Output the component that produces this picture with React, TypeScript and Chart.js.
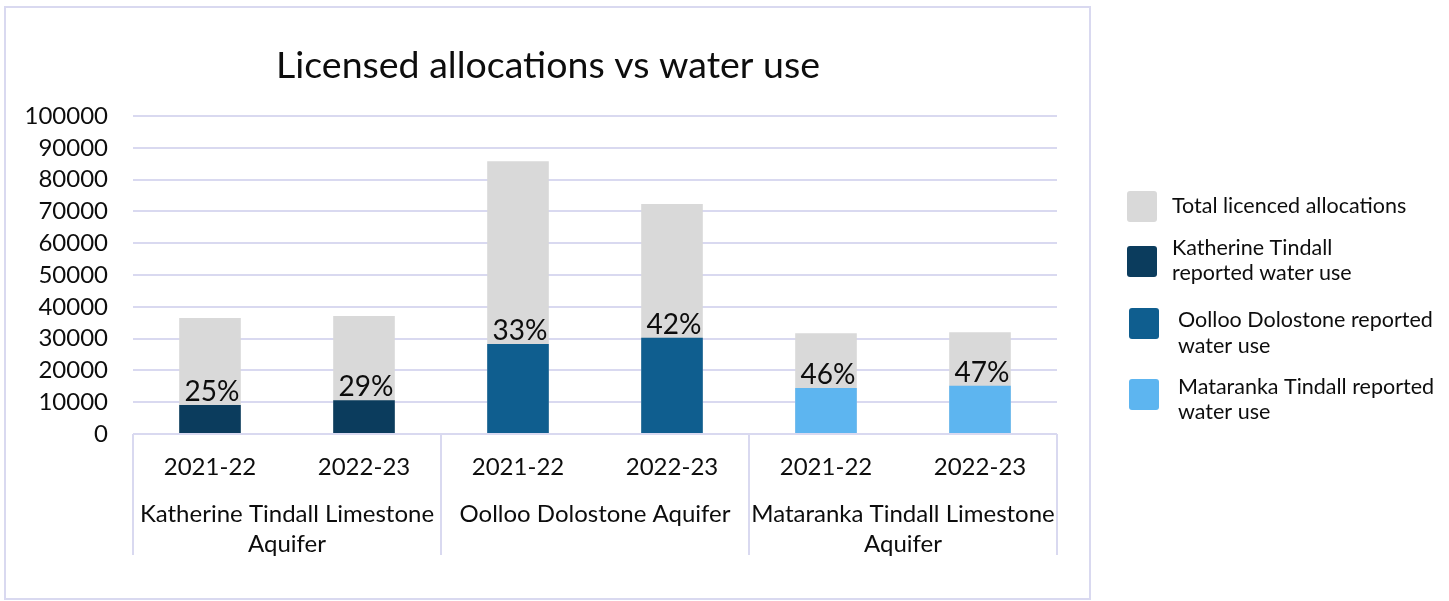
import React, { useEffect, useRef } from "react";
import { Chart, registerables } from "chart.js";

Chart.register(...registerables);

const categories = ["2021-22", "2022-23", "2021-22", "2022-23", "2021-22", "2022-23"];
const groupLabels = [
  ["Katherine Tindall Limestone", "Aquifer"],
  ["Oolloo Dolostone Aquifer"],
  ["Mataranka Tindall Limestone", "Aquifer"],
];
const totalAllocations = [36500, 37100, 85800, 72300, 31700, 32000];
const katherineUse = [9100, 10600, null, null, null, null];
const oollooUse = [null, null, 28300, 30300, null, null];
const matarankaUse = [null, null, null, null, 14500, 15200];
const percentLabels = ["25%", "29%", "33%", "42%", "46%", "47%"];
const yTicks = [0, 10000, 20000, 30000, 40000, 50000, 60000, 70000, 80000, 90000, 100000];

const legendItems = [
  { lines: ["Total licenced allocations"], color: "#d9d9d9" },
  { lines: ["Katherine Tindall", "reported water use"], color: "#0b3c5d" },
  { lines: ["Oolloo Dolostone reported", "water use"], color: "#0f5e8f" },
  { lines: ["Mataranka Tindall reported", "water use"], color: "#5db5f0" },
];

const FONT = "Lato, 'Noto Sans', sans-serif";
const TEXT = "#0d0d0d";
const GRID = "#d9d9f0";

function roundRect(ctx: CanvasRenderingContext2D, x: number, y: number, w: number, h: number, r: number) {
  ctx.beginPath();
  ctx.moveTo(x + r, y);
  ctx.lineTo(x + w - r, y);
  ctx.quadraticCurveTo(x + w, y, x + w, y + r);
  ctx.lineTo(x + w, y + h - r);
  ctx.quadraticCurveTo(x + w, y + h, x + w - r, y + h);
  ctx.lineTo(x + r, y + h);
  ctx.quadraticCurveTo(x, y + h, x, y + h - r);
  ctx.lineTo(x, y + r);
  ctx.quadraticCurveTo(x, y, x + r, y);
  ctx.closePath();
}

const decorPlugin = {
  id: "decor",
  beforeDraw(chart: any) {
    const ctx = chart.ctx as CanvasRenderingContext2D;
    ctx.save();
    ctx.fillStyle = "#ffffff";
    ctx.fillRect(0, 0, chart.width, chart.height);
    ctx.strokeStyle = GRID;
    ctx.lineWidth = 2;
    ctx.strokeRect(5, 7, 1085, 592);
    ctx.restore();
  },
  afterDraw(chart: any) {
    const ctx = chart.ctx as CanvasRenderingContext2D;
    const x = chart.scales.x;
    const y = chart.scales.y;
    const area = chart.chartArea;
    ctx.save();

    // title
    ctx.fillStyle = TEXT;
    ctx.font = `37.5px ${FONT}`;
    ctx.textAlign = "center";
    ctx.textBaseline = "middle";
    ctx.fillText("Licensed allocations vs water use", 548, 66);

    // category box
    ctx.strokeStyle = GRID;
    ctx.lineWidth = 2;
    const bounds = [-0.5, 1.5, 3.5, 5.5];
    bounds.forEach((b) => {
      const px = Math.round(x.getPixelForValue(b));
      ctx.beginPath();
      ctx.moveTo(px, area.bottom);
      ctx.lineTo(px, 555);
      ctx.stroke();
    });

    // year labels
    ctx.font = `24px ${FONT}`;
    ctx.fillStyle = TEXT;
    ctx.textAlign = "center";
    ctx.textBaseline = "middle";
    categories.forEach((c, i) => {
      ctx.fillText(c, x.getPixelForValue(i), 467);
    });

    // group labels
    groupLabels.forEach((lines, g) => {
      const cx = (x.getPixelForValue(bounds[g]) + x.getPixelForValue(bounds[g + 1])) / 2;
      lines.forEach((l, j) => {
        ctx.fillText(l, cx, 514 + j * 30);
      });
    });

    // percent labels
    ctx.font = `28px ${FONT}`;
    ctx.textBaseline = "alphabetic";
    percentLabels.forEach((p, i) => {
      const v = katherineUse[i] ?? oollooUse[i] ?? matarankaUse[i];
      if (v == null) return;
      ctx.fillText(p, x.getPixelForValue(i) + 2, y.getPixelForValue(v) - 4);
    });

    // legend
    const rows = [
      { sy: 191, tx: 1172, ty: [206] },
      { sy: 246, tx: 1172, ty: [248, 273] },
      { sy: 308, tx: 1178, ty: [320, 346] },
      { sy: 379, tx: 1178, ty: [387, 412] },
    ];
    ctx.font = `21.5px ${FONT}`;
    ctx.textAlign = "left";
    ctx.textBaseline = "middle";
    legendItems.forEach((it, i) => {
      const r = rows[i];
      const sx = i < 2 ? 1127 : 1129;
      ctx.fillStyle = it.color;
      roundRect(ctx, sx, r.sy, 30, 31, 3);
      ctx.fill();
      ctx.fillStyle = TEXT;
      it.lines.forEach((l, j) => ctx.fillText(l, r.tx, r.ty[j]));
    });

    ctx.restore();
  },
};

export default function App() {
  const ref = useRef<HTMLCanvasElement>(null);
  useEffect(() => {
    document.body.style.margin = "0";
    const canvas = ref.current!;
    const chart = new Chart(canvas, {
      type: "bar",
      data: {
        labels: categories,
        datasets: [
          { label: "Total licenced allocations", data: totalAllocations, backgroundColor: "#d9d9d9", order: 2, grouped: false } as any,
          { label: "Katherine Tindall reported water use", data: katherineUse, backgroundColor: "#0b3c5d", order: 1, grouped: false } as any,
          { label: "Oolloo Dolostone reported water use", data: oollooUse, backgroundColor: "#0f5e8f", order: 1, grouped: false } as any,
          { label: "Mataranka Tindall reported water use", data: matarankaUse, backgroundColor: "#5db5f0", order: 1, grouped: false } as any,
        ],
      },
      options: {
        responsive: false,
        animation: false,
        devicePixelRatio: 1,
        layout: { padding: { left: 0, top: 116, right: 392, bottom: 167 } },
        datasets: { bar: { categoryPercentage: 1, barPercentage: 0.4 } },
        plugins: { legend: { display: false }, title: { display: false }, tooltip: { enabled: false } },
        scales: {
          x: { display: false, offset: true },
          y: {
            min: 0,
            max: 100000,
            afterFit: (s: any) => { s.width = 133; },
            afterBuildTicks: (s: any) => { s.ticks = yTicks.map((v) => ({ value: v })); },
            border: { display: false },
            grid: { color: GRID, lineWidth: 2, drawTicks: false },
            ticks: {
              padding: 25,
              color: TEXT,
              font: { family: FONT, size: 24 },
              callback: (v: any) => String(v),
            },
          },
        },
      },
      plugins: [decorPlugin],
    });
    return () => chart.destroy();
  }, []);
  return (
    <div style={{ width: 1449, height: 601 }}>
      <canvas ref={ref} width={1449} height={601} style={{ width: 1449, height: 601, display: "block" }} />
    </div>
  );
}
